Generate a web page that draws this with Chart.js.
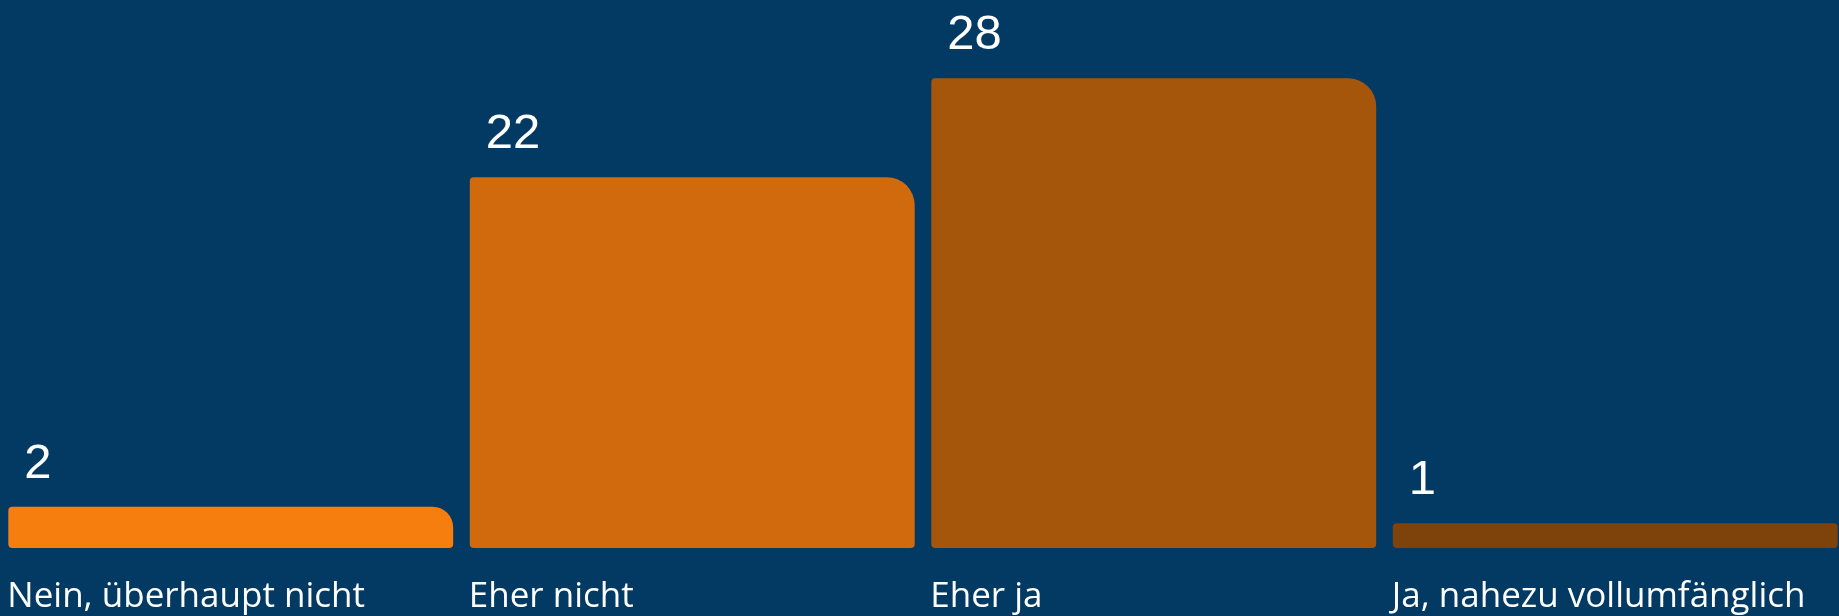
<!DOCTYPE html>
<html>
<head>
<meta charset="utf-8">
<script src="https://cdn.jsdelivr.net/npm/chart.js@4/dist/chart.umd.min.js"></script>
<style>
  html, body { margin: 0; padding: 0; background: #033a63; overflow: hidden; }
  #wrap { position: relative; width: 1846px; height: 616px; }
</style>
</head>
<body>
<div id="wrap"><canvas id="barChart"></canvas></div>
<script>
const categories = ['Nein, überhaupt nicht', 'Eher nicht', 'Eher ja', 'Ja, nahezu vollumfänglich'];
const answers = [2, 22, 28, 1];
const barColors = ['#f57e0f', '#d06a0c', '#a6560a', '#7d430a'];

// draws the numbers above the bars and the category names under them
const barLabels = {
  id: 'barLabels',
  afterDatasetsDraw(chart) {
    const ctx = chart.ctx;
    const meta = chart.getDatasetMeta(0);
    const bottom = chart.chartArea.bottom;
    ctx.save();
    ctx.fillStyle = '#ffffff';
    ctx.textAlign = 'left';
    ctx.textBaseline = 'alphabetic';
    meta.data.forEach((bar, i) => {
      const left = bar.x - bar.width / 2;
      ctx.font = '49px "Liberation Sans", Arial, sans-serif';
      ctx.fillText(String(answers[i]), left + 16, bar.y - 29);
      ctx.font = '35px "Open Sans", "Noto Sans", sans-serif';
      ctx.fillText(categories[i], left - 1, bottom + 59);
    });
    ctx.restore();
  }
};

const chart = new Chart(document.getElementById('barChart'), {
  type: 'bar',
  data: {
    labels: categories,
    datasets: [{
      data: answers,
      base: -0.5,
      backgroundColor: barColors,
      borderWidth: 0,
      borderSkipped: false,
      borderRadius: ctx => ({
        topLeft: 4,
        topRight: ctx.raw >= 2 ? 28 : 4,
        bottomLeft: 4,
        bottomRight: 4
      }),
      categoryPercentage: 1,
      barPercentage: 0.964
    }]
  },
  options: {
    responsive: true,
    maintainAspectRatio: false,
    animation: false,
    layout: { padding: { top: 0, bottom: 68, left: 0, right: 0 } },
    scales: {
      x: { display: false },
      y: { display: false, min: -0.5, max: 32.75 }
    },
    plugins: {
      legend: { display: false },
      tooltip: { enabled: false }
    }
  },
  plugins: [barLabels]
});
</script>
</body>
</html>
